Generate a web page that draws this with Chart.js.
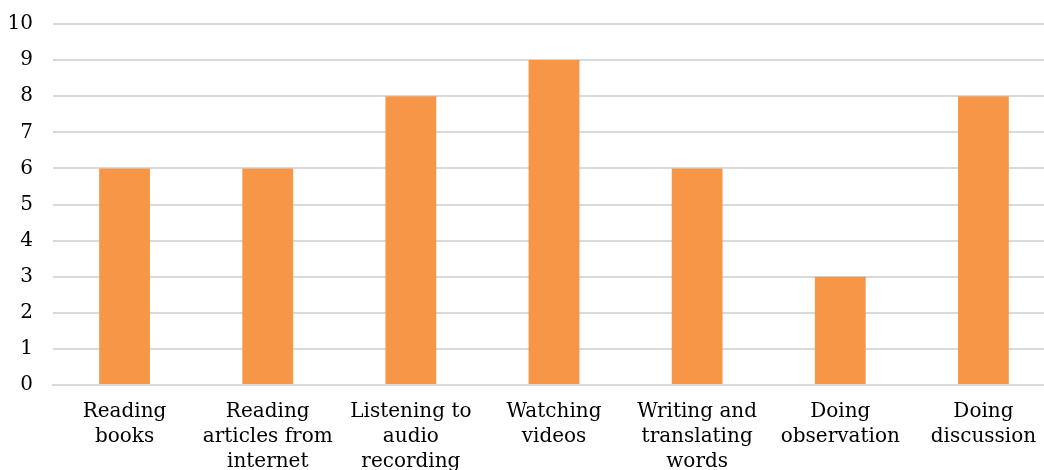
<!DOCTYPE html>
<html><head><meta charset="utf-8">
<script src="https://cdn.jsdelivr.net/npm/chart.js@4/dist/chart.umd.min.js"></script>
<style>html,body{margin:0;padding:0;background:#fff;overflow:hidden;}#wrap{width:1044px;height:470px;overflow:hidden;}#c{display:block;margin-top:-8px;}</style>
</head><body><div id="wrap"><canvas id="c" width="1055" height="478"></canvas></div>
<script>
const categories = [
  ["Reading","books"],
  ["Reading","articles from","internet"],
  ["Listening to","audio","recording"],
  ["Watching","videos"],
  ["Writing and","translating","words"],
  ["Doing","observation"],
  ["Doing","discussion"]
];
const values = [6, 6, 8, 9, 6, 3, 8];
const yTicks = [0,1,2,3,4,5,6,7,8,9,10];

const FONT = "'DejaVu Serif', serif";
new Chart(document.getElementById('c'), {
  type: 'bar',
  data: { labels: categories, datasets: [{ data: values, backgroundColor: '#F79646', barPercentage: 0.355, categoryPercentage: 1.0 }] },
  options: {
    responsive: false, animation: false,
    layout: { padding: { top: 5, right: 0, left: 0, bottom: 0 } },
    plugins: { legend: { display: false }, tooltip: { enabled: false } },
    scales: {
      x: {
        grid: { display: false },
        border: { display: true, color: '#d9d9d9', width: 2 },
        ticks: { color: '#000', font: { family: FONT, size: 20, lineHeight: 1.25 }, maxRotation: 0, autoSkip: false, padding: 6 },
        afterFit: s => { s.height = 85; }
      },
      y: {
        min: 0, max: 10,
        afterBuildTicks: s => { s.ticks = yTicks.map(v => ({ value: v })); },
        grid: { color: '#d9d9d9', lineWidth: 2, drawTicks: false },
        border: { display: false },
        ticks: { color: '#000', font: { family: FONT, size: 20 }, padding: 20 },
        afterFit: s => { s.width = 53; }
      }
    }
  }
});
</script></body></html>
